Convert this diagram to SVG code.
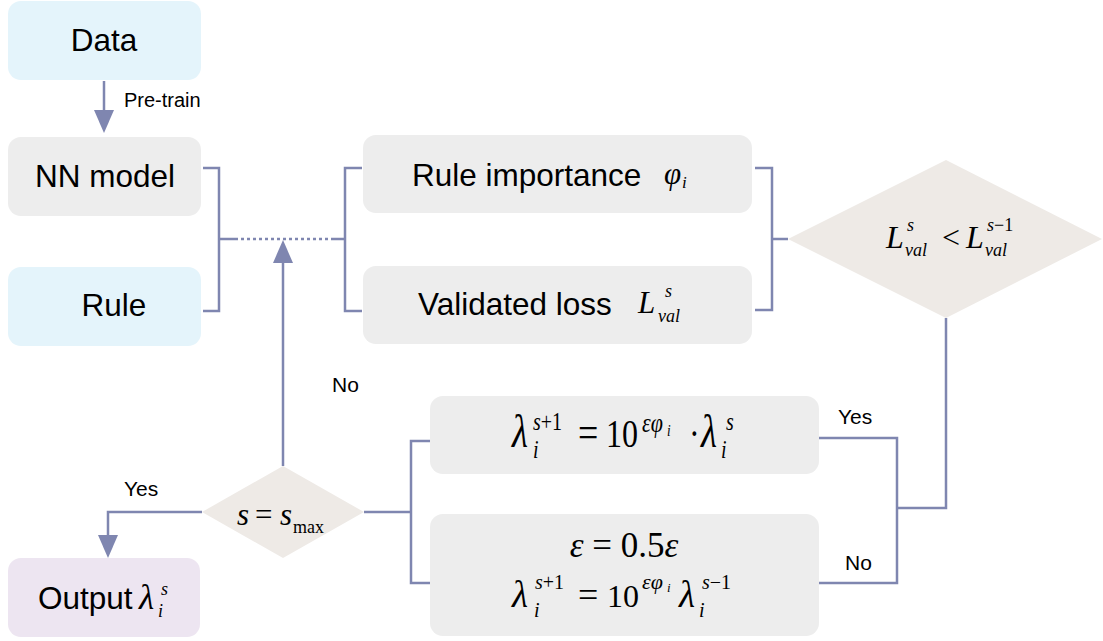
<svg xmlns="http://www.w3.org/2000/svg" width="1103" height="641" viewBox="0 0 1103 641">
<style>
.blue{fill:#e4f4fb}
.gray{fill:#ededed}
.beige{fill:#eeeae6}
.purple{fill:#ede5f1}
.ln{fill:none;stroke:#7f86b0;stroke-width:2.5}
.dot{fill:none;stroke:#7f86b0;stroke-width:2.5;stroke-dasharray:3 3}
.t{font-family:"Liberation Sans",Arial,sans-serif;fill:#000}
.m{font-family:"Liberation Serif","Times New Roman",serif;fill:#000}
.it{font-style:italic}
</style>
<defs>
<marker id="arr" markerUnits="userSpaceOnUse" markerWidth="24" markerHeight="22" refX="11" refY="10" orient="auto">
<path d="M0,0 L23,10 L0,20 Z" fill="#7f86b0"/>
</marker>
</defs>
<rect width="1103" height="641" fill="#ffffff"/>

<g id="connectors">
<path class="ln" d="M104,81 V121" marker-end="url(#arr)"/>
<path class="ln" d="M203,168 H219 V311 H203 M219,239 H235"/>
<path class="dot" d="M235,239 H332"/>
<path class="ln" d="M332,239 H345 M362,168 H345 V311 H362"/>
<path class="ln" d="M755,168 H772 V310 H755 M772,239 H788"/>
<path class="ln" d="M283,466 V252" marker-end="url(#arr)"/>
<path class="ln" d="M946,318 V508 H897 M819,438 H897 V583 H819"/>
<path class="ln" d="M364,512 H411 M430,441 H411 V583 H430"/>
<path class="ln" d="M202,512 H108 V546" marker-end="url(#arr)"/>
<text class="t" x="124" y="107" font-size="20">Pre-train</text>
<text class="t" x="332" y="392" font-size="21">No</text>
<text class="t" x="124" y="496" font-size="21">Yes</text>
<text class="t" x="838" y="424" font-size="21">Yes</text>
<text class="t" x="845" y="570" font-size="21">No</text>
</g>

<g id="data">
<rect class="blue" x="8" y="1" width="193" height="79" rx="13"/>
<text class="t" x="104" y="51" font-size="31.5" text-anchor="middle">Data</text>
</g>

<g id="nn-model">
<rect class="gray" x="8" y="137" width="193" height="79" rx="13"/>
<text class="t" x="105" y="187" font-size="31.5" text-anchor="middle">NN model</text>
</g>

<g id="rule">
<rect class="blue" x="8" y="267" width="193" height="79" rx="13"/>
<text class="t" x="114" y="316" font-size="31.5" text-anchor="middle">Rule</text>
</g>

<g id="rule-importance">
<rect class="gray" x="363" y="135" width="389" height="78" rx="13"/>
<text class="t" x="412" y="186" font-size="31.5">Rule importance</text>
<text class="m it" x="664" y="184" font-size="31">φ</text>
<text class="m it" x="682" y="188" font-size="17">i</text>
</g>

<g id="validated-loss">
<rect class="gray" x="363" y="266" width="389" height="78" rx="13"/>
<text class="t" x="418" y="315" font-size="31.5">Validated loss</text>
<text class="m it" x="638" y="313" font-size="31">L</text>
<text class="m it" x="665" y="297" font-size="18">s</text>
<text class="m it" x="658" y="322" font-size="18">val</text>
</g>

<g id="loss-check">
<polygon class="beige" points="788,239 946,160 1102,239 946,318"/>
<text class="m it" x="886" y="248" font-size="32">L</text>
<text class="m it" x="907" y="231" font-size="18">s</text>
<text class="m it" x="905" y="256" font-size="18">val</text>
<text class="m" x="942" y="248" font-size="32">&lt;</text>
<text class="m it" x="966" y="248" font-size="32">L</text>
<text class="m" x="987" y="231" font-size="18"><tspan class="it">s</tspan>−1</text>
<text class="m it" x="985" y="256" font-size="18">val</text>
</g>

<g id="update-yes">
<rect class="gray" x="430" y="396" width="389" height="78" rx="13"/>
<g transform="translate(0,447) scale(1,1.25)">
<text class="m it" x="512" y="0" font-size="37">λ</text>
<text class="m" x="533" y="-13.6" font-size="20"><tspan class="it">s</tspan>+1</text>
<text class="m it" x="533" y="8.8" font-size="20">i</text>
<text class="m" x="578" y="0" font-size="36">=</text>
<text class="m" x="606" y="0" font-size="32">10</text>
<text class="m it" x="642" y="-12" font-size="22">εφ</text>
<text class="m it" x="667" y="-9" font-size="13">i</text>
<text class="m" x="689" y="0" font-size="32">·</text>
<text class="m it" x="701" y="0" font-size="37">λ</text>
<text class="m it" x="726" y="-13.6" font-size="20">s</text>
<text class="m it" x="721" y="8.8" font-size="20">i</text>
</g>
</g>

<g id="update-no">
<rect class="gray" x="430" y="514" width="389" height="122" rx="13"/>
<text class="m" x="624" y="557" font-size="35" text-anchor="middle"><tspan class="it">ε</tspan> = 0.5<tspan class="it">ε</tspan></text>
<text class="m it" x="512" y="607" font-size="37">λ</text>
<text class="m" x="535" y="589" font-size="20"><tspan class="it">s</tspan>+1</text>
<text class="m it" x="534" y="617" font-size="20">i</text>
<text class="m" x="578" y="607" font-size="36">=</text>
<text class="m" x="607" y="607" font-size="32">10</text>
<text class="m it" x="642" y="589" font-size="22">εφ</text>
<text class="m it" x="667" y="592" font-size="13">i</text>
<text class="m it" x="679" y="607" font-size="37">λ</text>
<text class="m" x="702" y="589" font-size="20"><tspan class="it">s</tspan>−1</text>
<text class="m it" x="699" y="617" font-size="20">i</text>
</g>

<g id="s-check">
<polygon class="beige" points="202,512 283,466 364,512 283,558"/>
<text class="m it" x="237" y="525" font-size="31">s</text>
<text class="m" x="255" y="525" font-size="31">=</text>
<text class="m it" x="280" y="525" font-size="31">s</text>
<text class="m" x="293" y="533" font-size="18">max</text>
</g>

<g id="output">
<rect class="purple" x="8" y="558" width="192" height="79" rx="13"/>
<text class="t" x="38" y="609" font-size="31.5">Output</text>
<text class="m it" x="139" y="609" font-size="35">λ</text>
<text class="m it" x="161" y="595" font-size="18">s</text>
<text class="m it" x="158" y="617" font-size="18">i</text>
</g>
</svg>
